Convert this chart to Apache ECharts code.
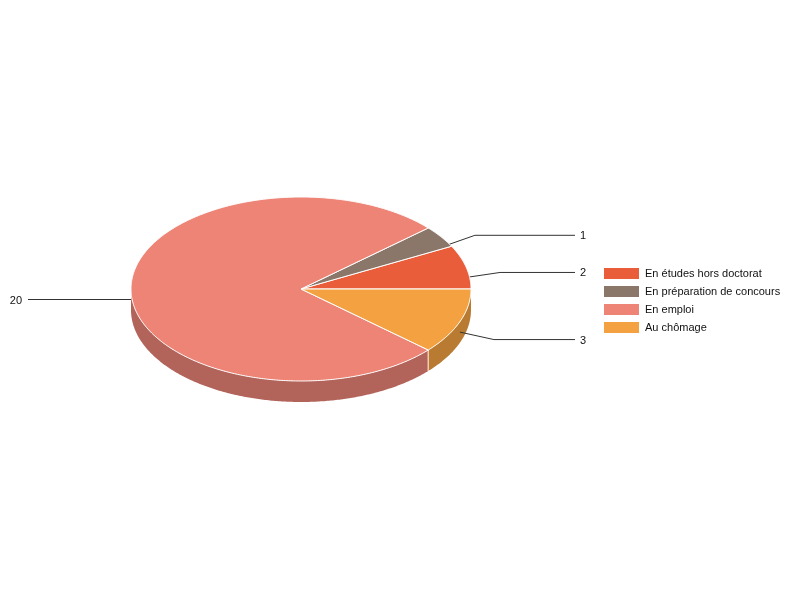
<!DOCTYPE html>
<html>
<head>
<meta charset="utf-8">
<script src="https://cdn.jsdelivr.net/npm/echarts@6/dist/echarts.min.js"></script>
<style>html,body{margin:0;padding:0;background:#fff}#c{width:800px;height:600px}</style>
</head>
<body>
<div id="c"></div>
<script>
var categories = ['En études hors doctorat', 'En préparation de concours', 'En emploi', 'Au chômage'];
var values = [2, 1, 20, 3];
var topColors = ['#E95D3A', '#8B7769', '#EE8476', '#F4A241'];
var sideColors = ['#A8412A', '#61534A', '#B2635A', '#B97A31'];

var CX = 301, CY = 289, RX = 170, RY = 92, DEPTH = 21;
var total = values.reduce(function (a, b) { return a + b; }, 0);

function pt(a, dy) {
  return [CX + RX * Math.cos(a), CY - RY * Math.sin(a) + (dy || 0)];
}
function arcPts(a1, a2, dy) {
  var n = Math.max(2, Math.ceil(Math.abs(a2 - a1) / 0.01));
  var out = [];
  for (var i = 0; i <= n; i++) out.push(pt(a1 + (a2 - a1) * i / n, dy));
  return out;
}

var chart = echarts.init(document.getElementById('c'), null, { renderer: 'canvas' });

function renderItem(params, api) {
  var idx = params.dataIndex;
  var before = 0;
  for (var i = 0; i < idx; i++) before += values[i];
  var v = api.value(0);
  var a1 = before / total * Math.PI * 2;
  var a2 = (before + v) / total * Math.PI * 2;
  var children = [];
  var s1 = Math.max(a1, Math.PI), s2 = Math.min(a2, Math.PI * 2);
  if (s2 > s1) {
    var topArc = arcPts(s1, s2, 0);
    var botArc = arcPts(s2, s1, DEPTH);
    children.push({
      type: 'polygon', z2: 1,
      shape: { points: topArc.concat(botArc) },
      style: { fill: sideColors[idx], stroke: null }
    });
    if (a1 > Math.PI && a1 < Math.PI * 2) {
      var p = pt(a1, 0);
      children.push({
        type: 'line', z2: 2,
        shape: { x1: p[0], y1: p[1], x2: p[0], y2: p[1] + DEPTH },
        style: { stroke: '#F2C9B4', lineWidth: 1.5 }
      });
    }
  }
  var pts = [[CX, CY]].concat(arcPts(a1, a2, 0));
  children.push({
    type: 'polygon', z2: 10,
    shape: { points: pts },
    style: { fill: topColors[idx], stroke: '#ffffff', lineWidth: 1, lineJoin: 'round' }
  });
  var mid = (a1 + a2) / 2;
  var anchor = pt(mid, DEPTH / 2);
  var right = Math.cos(mid) >= 0;
  var elbow = [anchor[0] + (right ? 34 : -34), anchor[1] - 21 * Math.sin(mid)];
  var endX = right ? 575 : 28;
  children.push({
    type: 'polyline', z2: 5,
    shape: { points: [anchor, elbow, [endX, elbow[1]]] },
    style: { stroke: '#333', lineWidth: 1, fill: null }
  });
  children.push({
    type: 'text', z2: 20,
    style: {
      x: right ? 580 : 22, y: elbow[1] + 1,
      text: String(v),
      fill: '#111', font: '11px "Liberation Sans", Arial, sans-serif',
      align: right ? 'left' : 'right', verticalAlign: 'middle'
    }
  });
  return { type: 'group', children: children };
}

chart.setOption({
  animation: false,
  backgroundColor: '#ffffff',
  color: topColors,
  legend: {
    orient: 'vertical',
    left: 604, top: 268,
    padding: 0,
    icon: 'rect',
    itemWidth: 35, itemHeight: 11, itemGap: 7,
    data: categories,
    selectedMode: false,
    itemStyle: { opacity: 1, borderWidth: 0 },
    textStyle: { fontSize: 11, fontFamily: '"Liberation Sans", Arial, sans-serif', color: '#111', padding: [0, 0, 0, 1] }
  },
  series: [
    {
      type: 'custom',
      coordinateSystem: 'none',
      silent: true,
      renderItem: renderItem,
      data: values.map(function (v) { return [v]; })
    },
    {
      type: 'pie',
      radius: [0, 0],
      center: [CX, CY],
      silent: true,
      label: { show: false }, labelLine: { show: false },
      itemStyle: { borderWidth: 0 },
      data: categories.map(function (c, i) {
        return { name: c, value: values[i], itemStyle: { color: topColors[i] } };
      })
    }
  ]
});
</script>
</body>
</html>
